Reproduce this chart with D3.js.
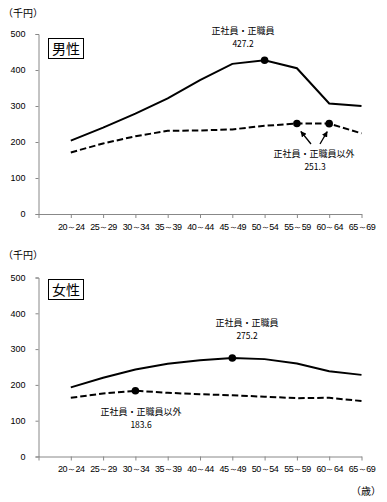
<!DOCTYPE html>
<html><head><meta charset="utf-8">
<script src="https://cdn.jsdelivr.net/npm/d3@7"></script>
<style>
body{margin:0;background:#fff;}
svg{display:block;font-family:"Noto Sans CJK JP","Noto Sans",sans-serif;}
</style></head>
<body>
<svg id="c" width="387" height="502"></svg>
<script>
const categories = ["20～24","25～29","30～34","35～39","40～44","45～49","50～54","55～59","60～64","65～69"];
const yTicks = [0,100,200,300,400,500];
const maleRegular = [204,240,279,321,372,417,427.2,405,307,300];
const maleNonRegular = [171,196,216,231,232,235,245,251.3,251,224];
const femaleRegular = [193,220,243,259,269,275.2,272,260,238,228];
const femaleNonRegular = [164,176,183.6,178,174,171,167,163,164,155];

const svg = d3.select("#c");
const defs = svg.append("defs");
defs.append("marker").attr("id","arr").attr("viewBox","0 0 10 10").attr("refX",9).attr("refY",5)
  .attr("markerWidth",4.5).attr("markerHeight",4.5).attr("orient","auto")
  .append("path").attr("d","M0,0L10,5L0,10z").attr("fill","#000");

function panel(opt){
  const g = svg.append("g");
  const x = d3.scaleLinear().domain([-1, categories.length-1]).range([38.5, 361.5]);
  const y = d3.scaleLinear().domain([0,500]).range([opt.y0, opt.y500]);
  const ya = g.append("g").attr("transform","translate(38.5,0)")
    .call(d3.axisLeft(y).tickValues(yTicks).tickSize(3).tickPadding(10));
  ya.select(".domain").attr("stroke","#888");
  ya.selectAll(".tick line").attr("stroke","#888");
  ya.selectAll("text").attr("font-size","9px").attr("fill","#000");
  const xa = g.append("g").attr("transform",`translate(0,${y(0)})`)
    .call(d3.axisBottom(x).tickValues(d3.range(-1,categories.length)).tickSize(4).tickSizeOuter(0)
      .tickFormat(d=> d>=0 ? categories[d] : ""));
  xa.select(".domain").attr("stroke","#888");
  xa.selectAll(".tick line").attr("stroke","#888");
  xa.selectAll("text").attr("font-size","9px").attr("fill","#000").attr("dy","0.95em").attr("letter-spacing","-0.5px");
  g.append("text").attr("x",3).attr("y",opt.unitY).attr("font-size","10px").text("（千円）");
  g.append("rect").attr("x",48.5).attr("y",opt.boxY+0.5).attr("width",35).attr("height",20)
    .attr("fill","#fff").attr("stroke","#000");
  g.append("text").attr("x",66).attr("y",opt.boxY+15.5).attr("text-anchor","middle")
    .attr("font-size","14px").text(opt.title);
  const line = d3.line().x((d,i)=>x(i)).y(d=>y(d));
  g.append("path").datum(opt.reg).attr("d",line).attr("fill","none").attr("stroke","#000").attr("stroke-width",2);
  g.append("path").datum(opt.non).attr("d",line).attr("fill","none").attr("stroke","#000")
    .attr("stroke-width",2).attr("stroke-dasharray","6.5,3");
  opt.regDots.forEach(i=> g.append("circle").attr("cx",x(i)).attr("cy",y(opt.reg[i])).attr("r",3.8).attr("fill","#000"));
  opt.nonDots.forEach(i=> g.append("circle").attr("cx",x(i)).attr("cy",y(opt.non[i])).attr("r",3.8).attr("fill","#000"));
  return {g,x,y};
}

const m = panel({y0:214,y500:34,unitY:17,boxY:38,title:"男性",reg:maleRegular,non:maleNonRegular,regDots:[6],nonDots:[7,8]});
m.g.append("text").attr("x",243).attr("y",34).attr("text-anchor","middle").attr("font-size","9px").text("正社員・正職員");
m.g.append("text").attr("x",243).attr("y",47).attr("text-anchor","middle").attr("font-size","8.5px").text(maleRegular[6].toFixed(1));
m.g.append("text").attr("x",314).attr("y",157).attr("text-anchor","middle").attr("font-size","9px").text("正社員・正職員以外");
m.g.append("text").attr("x",315).attr("y",170).attr("text-anchor","middle").attr("font-size","8.5px").text(maleNonRegular[7].toFixed(1));
m.g.append("line").attr("x1",311).attr("y1",144).attr("x2",m.x(7)+4).attr("y2",m.y(maleNonRegular[7])+8)
  .attr("stroke","#000").attr("stroke-width",1.3).attr("marker-end","url(#arr)");
m.g.append("line").attr("x1",320).attr("y1",144).attr("x2",m.x(8)-2).attr("y2",m.y(maleNonRegular[8])+8)
  .attr("stroke","#000").attr("stroke-width",1.3).attr("marker-end","url(#arr)");

const f = panel({y0:456.5,y500:277.5,unitY:259,boxY:279,title:"女性",reg:femaleRegular,non:femaleNonRegular,regDots:[5],nonDots:[2]});
f.g.append("text").attr("x",247).attr("y",326).attr("text-anchor","middle").attr("font-size","9px").text("正社員・正職員");
f.g.append("text").attr("x",247).attr("y",339).attr("text-anchor","middle").attr("font-size","8.5px").text(femaleRegular[5].toFixed(1));
f.g.append("text").attr("x",141).attr("y",415).attr("text-anchor","middle").attr("font-size","9px").text("正社員・正職員以外");
f.g.append("text").attr("x",141).attr("y",428).attr("text-anchor","middle").attr("font-size","8.5px").text(femaleNonRegular[2].toFixed(1));
svg.append("text").attr("x",351).attr("y",495).attr("font-size","10px").text("（歳）");
</script>
</body></html>
